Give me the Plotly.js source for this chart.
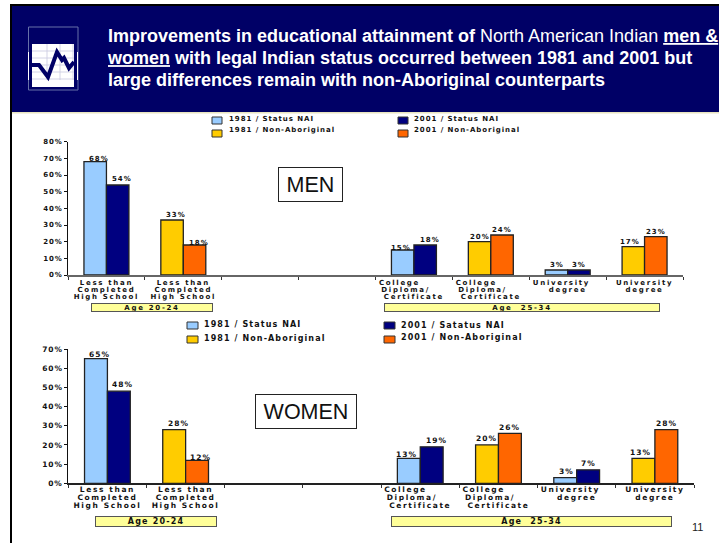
<!DOCTYPE html>
<html><head><meta charset="utf-8">
<script src="https://cdn.plot.ly/plotly-3.0.1.min.js"></script>
<style>html,body{margin:0;padding:0;background:#fff}#c{width:719px;height:543px}</style>
</head><body><div id="c"></div>
<script>
const W=719,H=543;
const N='\u00a0';
const catKeys=['c1','c2','c3','c4','c5','c6','c7','c8'];
const catLabels=['Less than|Completed|High School','Less than|Completed|High School','','',
 'College'+N.repeat(7)+'|Diploma/'+N.repeat(4)+'|Certificate','College'+N.repeat(7)+'|Diploma/'+N.repeat(4)+'|Certificate','University'+N.repeat(3)+'|degree','University|degree'];
const seriesNames=['1981 / Status NAI','2001 / Status NAI','1981 / Non-Aboriginal','2001 / Non-Aboriginal'];
const womenNames=['1981 / Status NAI','2001 / Satatus NAI','1981 / Non-Aboriginal','2001 / Non-Aboriginal'];
const seriesColors=['#99CCFF','#000080','#FFCC00','#FF6600'];
const men1981Status=[68,null,null,null,15,null,3,null];
const men2001Status=[54,null,null,null,18,null,3,null];
const men1981NonAb=[null,33,null,null,null,20,null,17];
const men2001NonAb=[null,18,null,null,null,24,null,23];
const women1981Status=[65,null,null,null,13,null,3,null];
const women2001Status=[48,null,null,null,19,null,7,null];
const women1981NonAb=[null,28,null,null,null,20,null,13];
const women2001NonAb=[null,12,null,null,null,26,null,28];
const menTicks=[0,10,20,30,40,50,60,70,80];
const womenTicks=[0,10,20,30,40,50,60,70];
// small hand offsets of the value labels, [dx,dy] in pixels, as placed on the original slide
const menNudge={'0:0':[4,3],'1:0':[4,6],'2:1':[4,5],'3:1':[4,2],'0:4':[-2,2],'1:4':[4.5,5],'2:5':[0,5],'3:5':[0,5],'0:6':[1,5],'1:6':[0,5],'2:7':[-3,5],'3:7':[0,5]};
const womenNudge={'0:0':[4,4],'1:0':[4,7],'2:1':[4.5,6],'3:1':[3,3],'0:4':[-2,4],'1:4':[4.4,6],'2:5':[0,6],'3:5':[0,6],'0:6':[1,6.5],'1:6':[0,6],'2:7':[-2.5,6],'3:7':[0,6.3]};

const TF='DejaVu Sans', LS='Liberation Sans';
const px=x=>x/W, py=y=>1-y/H;
const sp=(s,size,ls)=>'<span style="font-size:'+size+'px;letter-spacing:'+ls+'px">'+s+'</span>';
function bars(name,y,color,group,xa,ya){
  return {type:'bar',name,x:catKeys,y,xaxis:xa,yaxis:ya,offsetgroup:group,
    marker:{color,line:{color:'#222',width:1.3}},showlegend:false,hoverinfo:'skip'};
}
const data=[
 bars(seriesNames[0],men1981Status,seriesColors[0],'a','x','y'),
 bars(seriesNames[1],men2001Status,seriesColors[1],'b','x','y'),
 bars(seriesNames[2],men1981NonAb,seriesColors[2],'a','x','y'),
 bars(seriesNames[3],men2001NonAb,seriesColors[3],'b','x','y'),
 bars(womenNames[0],women1981Status,seriesColors[0],'a','x2','y2'),
 bars(womenNames[1],women2001Status,seriesColors[1],'b','x2','y2'),
 bars(womenNames[2],women1981NonAb,seriesColors[2],'a','x2','y2'),
 bars(womenNames[3],women2001NonAb,seriesColors[3],'b','x2','y2')
];
function xax(x0,x1,axisFs,fs,ls,anchor,lc,standoff){
  return {domain:[px(x0),px(x1)],anchor,type:'category',categoryorder:'array',categoryarray:catKeys,
    tickmode:'array',tickvals:catKeys,ticktext:catLabels.map(l=>l.split('|').map(p=>sp(p,fs,ls)).join('<br>')),
    tickson:'boundaries',ticks:'outside',ticklen:3,tickwidth:1,tickcolor:'#333',ticklabelstandoff:standoff,
    showgrid:false,zeroline:false,showline:true,linecolor:lc,linewidth:1.5,tickangle:0,fixedrange:true,
    tickfont:{family:TF,size:axisFs,color:'#111',weight:700}};
}
function yax(y0,y1,max,ticks,fs,anchor){
  return {domain:[py(y1),py(y0)],anchor,range:[0,max],tickmode:'array',tickvals:ticks,ticktext:ticks.map(v=>sp(v+'%',fs,0.9)),
    ticks:'outside',ticklen:3,tickwidth:1,tickcolor:'#111',showgrid:false,zeroline:false,showline:true,linecolor:'#111',linewidth:1,
    fixedrange:true,tickfont:{family:TF,size:fs,color:'#111',weight:700}};
}
const shapes=[], annotations=[];
const rect=(x0,y0,x1,y1,fill,lc,lw,layer)=>shapes.push({type:'rect',xref:'paper',yref:'paper',x0:px(x0),x1:px(x1),y0:py(y0),y1:py(y1),fillcolor:fill,line:{color:lc||fill,width:lw||0},layer:layer||'below'});
const line=(pts,color,width)=>shapes.push({type:'path',xref:'paper',yref:'paper',path:'M'+pts.map(p=>px(p[0])+','+py(p[1])).join(' L'),line:{color,width},layer:'below'});
rect(12,6,719,112,'#000066');
rect(10,4,719,6,'#000');
rect(10,4,12,543,'#000');
rect(12,112,719,113.5,'#E8E4C0');
// icon
rect(28.5,27,78,90,'rgba(0,0,0,0)','#6670A8',1);
rect(32,44,74,87,'#fff');
[47,60,73].forEach(x=>line([[x,44],[x,80]],'#C8C8E0',0.8));
[51,58,65,72,79].forEach(y=>line([[32,y],[74,y]],'#C8C8E0',0.8));
line([[28.5,52],[28.5,80]],'#fff',1);
line([[77.5,52],[77.5,80]],'#fff',1);
line([[32,65],[39,65],[42,69],[48,77],[57,52],[62,60],[64,58],[69,68],[74,62]],'#000066',4);

function legendRow(sw0,sw1,y0,y1,tx,ty,label,color,fs,ls){
  rect(sw0,y0,sw1,y1,color,'#333',1,'above');
  annotations.push({xref:'paper',yref:'paper',x:px(tx-2),y:py(ty),xanchor:'left',yanchor:'middle',showarrow:false,text:sp(label,fs,ls),font:{family:TF,size:fs,color:'#111',weight:700}});
}
legendRow(212,222,117,124,229,119,seriesNames[0],seriesColors[0],7,0.95);
legendRow(398,408,117,124,414,119,seriesNames[1],seriesColors[1],7,0.95);
legendRow(212,222,130,137,229,130,seriesNames[2],seriesColors[2],7,0.95);
legendRow(398,408,130,137,414,130,seriesNames[3],seriesColors[3],7,0.95);
legendRow(187,198,322,329,204,324,womenNames[0],seriesColors[0],8,1.1);
legendRow(384,395,322,329,401,325,womenNames[1],seriesColors[1],8,1.1);
legendRow(187,198,336,343,204,338,womenNames[2],seriesColors[2],8,1.1);
legendRow(384,395,336,343,401,337,womenNames[3],seriesColors[3],8,1.1);

function box(x0,y0,x1,y1,text,fs,family,weight,bg,bc,bw){
  annotations.push({xref:'paper',yref:'paper',x:px((x0+x1)/2),y:py((y0+y1)/2),xanchor:'center',yanchor:'middle',showarrow:false,
    width:x1-x0-2*bw,height:y1-y0-2*bw,text,bgcolor:bg,bordercolor:bc,borderwidth:bw,borderpad:0,
    font:{family,size:fs,color:'#111',weight}});
}
box(278,167,343,202,'MEN',21.5,LS,400,'#fff','#222',1);
box(255,394,357,429,'WOMEN',21.5,LS,400,'#fff','#222',1);
box(91,303,213,312,sp('Age 20-24',7,1.7),7,TF,700,'#FFFF99','#555',1);
box(384,303,660,312,sp('Age  25-34',7,1.7),7,TF,700,'#FFFF99','#555',1);
box(95,516,217,527,sp('Age 20-24',8,1.2),8,TF,700,'#FFFF99','#555',1);
box(391,516,672,527,sp('Age  25-34',8,1.2),8,TF,700,'#FFFF99','#555',1);
annotations.push({xref:'paper',yref:'paper',x:px(697),y:py(527),xanchor:'center',yanchor:'middle',showarrow:false,text:'11',font:{family:LS,size:11,color:'#222'}});

function valueLabels(series,xa,ya,nudge,halfBar,fs){
  series.forEach((vals,s)=>vals.forEach((v,c)=>{
    if(v==null) return;
    const n=nudge[s+':'+c]||[0,5];
    annotations.push({xref:xa,yref:ya,x:catKeys[c],y:v,xanchor:'center',yanchor:'middle',showarrow:false,
      xshift:(s%2?1:-1)*halfBar+n[0],yshift:n[1],text:sp(v+'%',fs,1),font:{family:TF,size:fs,color:'#111',weight:700}});
  }));
}
valueLabels([men1981Status,men2001Status,men1981NonAb,men2001NonAb],'x','y',menNudge,11.25,7);
valueLabels([women1981Status,women2001Status,women1981NonAb,women2001NonAb],'x2','y2',womenNudge,11.5,7.5);

const t=s=>'<span style="font-size:18px">'+s+'</span>';
const layout={width:W,height:H,margin:{l:0,r:0,t:0,b:0},paper_bgcolor:'#fff',plot_bgcolor:'rgba(0,0,0,0)',
  barmode:'group',bargap:0.415,bargroupgap:0,showlegend:false,
  title:{text:t('<b>Improvements in educational attainment of </b>North American Indian <b><u>men &amp;</u></b>')+'<br>'+t('<b><u>women</u> with legal Indian status occurred between 1981 and 2001 but</b>')+'<br>'+t('<b>large differences remain with non-Aboriginal counterparts</b>'),
    x:px(108),xref:'paper',xanchor:'left',y:py(42),yref:'paper',yanchor:'middle',
    font:{family:LS,size:17,color:'#fff'}},
  xaxis:xax(68,683,5.4,7,1.7,'y','#666',2),
  yaxis:yax(141.7,275,80,menTicks,7,'x'),
  xaxis2:xax(68.3,694,6.15,7.5,1.6,'y2','#222',2.5),
  yaxis2:yax(349,483.3,70,womenTicks,7.5,'x2'),
  shapes,annotations};
Plotly.newPlot('c',data,layout,{staticPlot:true,displayModeBar:false});
</script></body></html>
